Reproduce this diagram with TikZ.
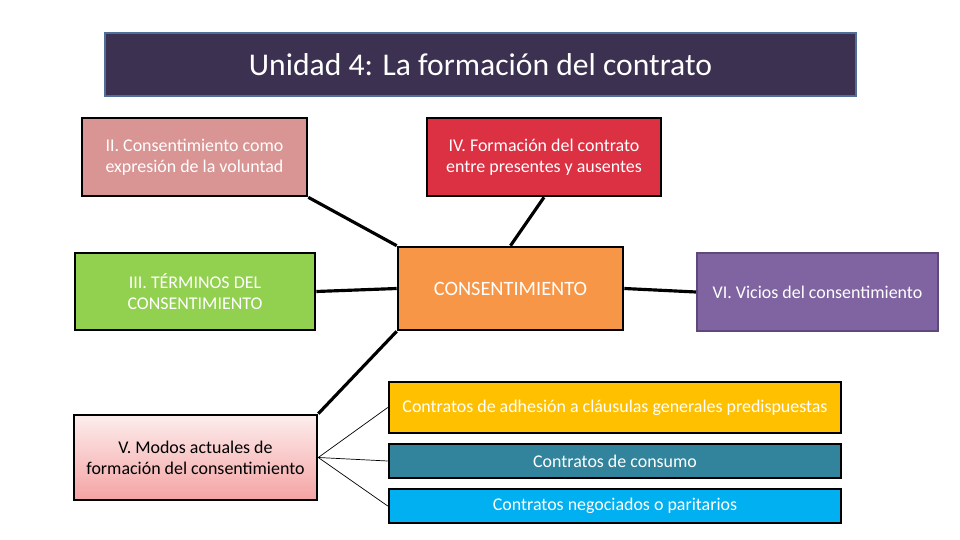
\documentclass[tikz,border=0pt]{standalone}
\usepackage{fontspec}
\setmainfont{Carlito}
\usepackage{tikz}
\usetikzlibrary{positioning}

\definecolor{titlefill}{HTML}{3C3151}
\definecolor{titleline}{HTML}{4E6F9A}
\definecolor{rosefill}{HTML}{D99594}
\definecolor{redfill}{HTML}{DC3043}
\definecolor{greenfill}{HTML}{92D050}
\definecolor{orangefill}{HTML}{F79646}
\definecolor{purplefill}{HTML}{8064A2}
\definecolor{purpleline}{HTML}{5F497A}
\definecolor{goldfill}{HTML}{FFC000}
\definecolor{tealfill}{HTML}{31849B}
\definecolor{skyfill}{HTML}{00B0F0}
\definecolor{pinktop}{HTML}{FDEDED}
\definecolor{pinkbot}{HTML}{F4A3A3}

\begin{document}
\begin{tikzpicture}[
  x=0.02cm, y=-0.02cm,
  topic/.style={rectangle, draw=black, line width=1.5pt, text=white, align=center, font=\fontsize{10.2}{12}\selectfont, inner sep=2pt},
  small topic/.style={topic, minimum width=9.04cm, minimum height=0.68cm},
  link/.style={line width=1.8pt, black},
  thin link/.style={line width=0.4pt, black}
]
  \useasboundingbox (0,0) rectangle (960,540);

  % Title
  \node[rectangle, draw=titleline, line width=1.2pt, fill=titlefill, text=white,
        minimum width=15.02cm, minimum height=1.26cm, font=\fontsize{18}{21}\selectfont]
        (title) at (480.5,64.5) {Unidad 4: La formación del contrato};

  % Main topics
  \node[topic, fill=rosefill, minimum width=4.5cm, minimum height=1.56cm] (voluntad) at (194.5,157)
        {II. Consentimiento como\\expresión de la voluntad};
  \node[topic, fill=redfill, minimum width=4.68cm, minimum height=1.56cm] (formacion) at (544,157)
        {IV. Formación del contrato\\entre presentes y ausentes};
  \node[topic, fill=greenfill, minimum width=4.8cm, minimum height=1.54cm] (terminos) at (195,291.5)
        {III. TÉRMINOS DEL\\CONSENTIMIENTO};
  \node[topic, fill=orangefill, minimum width=4.5cm, minimum height=1.66cm, font=\fontsize{11.6}{14}\selectfont] (consent) at (510.5,288.5)
        {CONSENTIMIENTO};
  \node[topic, draw=purpleline, line width=1.2pt, fill=purplefill, minimum width=4.82cm, minimum height=1.56cm] (vicios) at (817.5,292)
        {VI. Vicios del consentimiento};
  \node[topic, top color=pinktop, bottom color=pinkbot, text=black, minimum width=4.86cm, minimum height=1.7cm] (modos) at (195.5,457.5)
        {V. Modos actuales de\\formación del consentimiento};

  % Kinds of contracts
  \node[topic, fill=goldfill, minimum width=9.04cm, minimum height=1.02cm] (adhesion) at (615,407.5)
        {Contratos de adhesión a cláusulas generales predispuestas};
  \node[small topic, fill=tealfill] (consumo) at (615,461) {Contratos de consumo};
  \node[small topic, fill=skyfill] (negociados) at (615,506) {Contratos negociados o paritarios};

  % Links to the centre
  \draw[link] (voluntad.south east) -- (consent.north west);
  \draw[link] (formacion.south) -- (consent.north);
  \draw[link] (terminos.east) -- (consent.west);
  \draw[link] (consent.east) -- (vicios.west);
  \draw[link] (consent.south west) -- (modos.north east);

  % Links from V
  \draw[thin link] (modos.east) -- (adhesion.west);
  \draw[thin link] (modos.east) -- (consumo.west);
  \draw[thin link] (modos.east) -- (negociados.west);
\end{tikzpicture}
\end{document}
